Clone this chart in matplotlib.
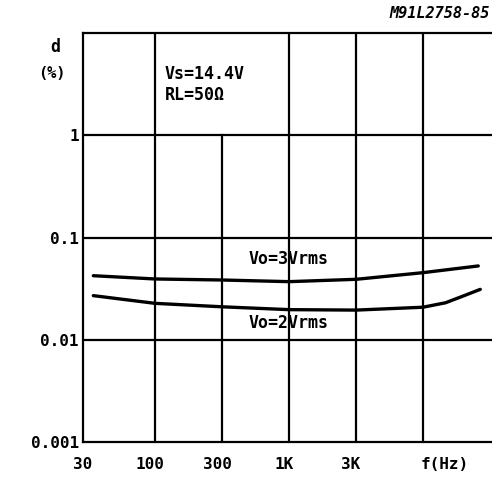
import numpy as np
import matplotlib.pyplot as plt
import matplotlib.transforms as mtransforms

# distortion vs frequency
freq_3v = [33, 100, 300, 1000, 3000, 10000, 27000]
dist_3v = [0.0423, 0.0393, 0.0384, 0.0370, 0.0390, 0.0453, 0.0527]

freq_2v = [33, 100, 300, 1000, 3000, 10000, 15000, 20000, 28000]
dist_2v = [0.0270, 0.0227, 0.0210, 0.0197, 0.0195, 0.0208, 0.0230, 0.0264, 0.0311]

xticks = [30, 100, 300, 1000, 3000]
xlabels = ['30', '100', '300', '1K', '3K']
yticks = [0.001, 0.01, 0.1, 1]
ylabels = ['0.001', '0.01', '0.1', '1']

# the printed graph puts 30/100/300/1K/3K/10K at equal steps
anchors = np.log10([30, 100, 300, 1000, 3000, 10000])
steps = np.arange(len(anchors), dtype=float)
lo_slope = anchors[1] - anchors[0]
hi_slope = anchors[-1] - anchors[-2]
log_ext = np.concatenate([[anchors[0] - 10 * lo_slope], anchors, [anchors[-1] + 10 * hi_slope]])
idx_ext = np.concatenate([[-10.0], steps, [steps[-1] + 10]])


def forward(x):
    x = np.clip(np.asarray(x, dtype=float), 1e-12, None)
    return np.interp(np.log10(x), log_ext, idx_ext)


def inverse(i):
    return 10 ** np.interp(np.asarray(i, dtype=float), idx_ext, log_ext)


plt.rcParams['font.family'] = ['DejaVu Sans Mono', 'DejaVu Sans']
plt.rcParams['font.weight'] = 'bold'

fig = plt.figure(figsize=(4.92, 4.79), dpi=100)
ax = fig.add_axes([83/492, 1-442/479, 1-83/492, (442-33)/479])

ax.set_xscale('function', functions=(forward, inverse))
ax.set_yscale('log')
ax.set_xlim(inverse(-0.075), inverse(6.03))
ax.set_ylim(0.001, 10)

lw = 1.6
# grid lines
for x in [100, 1000, 3000, 10000]:
    ax.axvline(x, color='black', lw=lw)
ax.plot([300, 300], [0.001, 1], color='black', lw=lw)
for y in [0.01, 0.1, 1]:
    ax.axhline(y, color='black', lw=lw)

ax.plot(freq_3v, dist_3v, color='black', lw=2.4, solid_capstyle='round')
ax.plot(freq_2v, dist_2v, color='black', lw=2.4, solid_capstyle='round')

for s in ['left', 'bottom', 'top']:
    ax.spines[s].set_linewidth(lw)
ax.spines['right'].set_visible(False)

ax.minorticks_off()
ax.set_xticks(xticks)
ax.set_xticklabels(xlabels)
ax.set_yticks(yticks)
ax.set_yticklabels(ylabels)
ax.tick_params(length=0, labelsize=11.5, pad=3)
ax.tick_params(axis='x', pad=11)
shift = mtransforms.ScaledTranslation(-5/100, 0, fig.dpi_scale_trans)
for lbl in ax.get_xticklabels():
    lbl.set_transform(lbl.get_transform() + shift)
for lbl in ax.get_xticklabels() + ax.get_yticklabels():
    lbl.set_fontweight('bold')

fs = 12
ax.text(0.885, -0.055, 'f(Hz)', transform=ax.transAxes, ha='center', va='center',
        fontsize=11.5, fontweight='bold')
fig.text(55/492, 1-47/479, 'd', ha='center', va='center', fontsize=fs, fontweight='bold')
fig.text(52/492, 1-73/479, '(%)', ha='center', va='center', fontsize=11, fontweight='bold')

ax.text(0.20, 0.875, 'Vs=14.4V\nRL=50\u03a9', transform=ax.transAxes, ha='left', va='center',
        fontsize=fs, fontweight='bold', linespacing=1.2)
ax.text(1000, 0.062, 'Vo=3Vrms', ha='center', va='center', fontsize=fs, fontweight='bold')
ax.text(1000, 0.0147, 'Vo=2Vrms', ha='center', va='center', fontsize=fs, fontweight='bold')

fig.text(0.995, 1-13/479, 'M91L2758-85', ha='right', va='center', fontsize=11,
         fontweight='bold', style='italic')

fig.savefig('out.png', dpi=100)
